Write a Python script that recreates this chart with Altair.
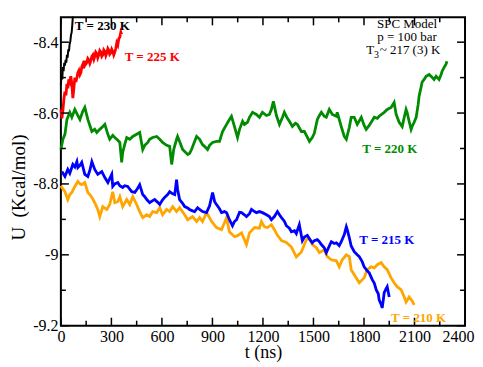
import altair as alt
import pandas as pd

# ---------------- data ----------------
t_230 = [0, 4, 8, 12, 16, 20, 24, 28, 32, 36, 40, 44, 48, 52, 56, 60, 64, 68, 71]
u_230 = [-8.520, -8.490, -8.505, -8.470, -8.482, -8.458, -8.466, -8.450, -8.458, -8.436,
         -8.444, -8.420, -8.426, -8.405, -8.398, -8.380, -8.372, -8.350, -8.328]

t_225 = [0, 6, 12, 18, 24, 30, 36, 41, 47, 53, 59, 65, 71, 77, 83, 89, 95, 101, 107, 113,
         119, 124, 130, 136, 142, 148, 154, 160, 166, 172, 178, 184, 190, 196, 201, 207,
         213, 219, 225, 231, 237, 243, 249, 255, 261, 267, 273, 279, 284, 290, 296, 302,
         308, 314, 320, 326, 332, 338, 344, 350, 356, 361]
u_225 = [-8.590, -8.615, -8.592, -8.560, -8.540, -8.550, -8.518, -8.530, -8.505, -8.512,
         -8.496, -8.518, -8.558, -8.530, -8.500, -8.512, -8.500, -8.486, -8.480, -8.492,
         -8.486, -8.470, -8.463, -8.474, -8.452, -8.462, -8.458, -8.446, -8.450, -8.460,
         -8.452, -8.440, -8.436, -8.448, -8.440, -8.428, -8.432, -8.444, -8.436, -8.424,
         -8.428, -8.440, -8.436, -8.422, -8.426, -8.438, -8.430, -8.418, -8.422, -8.434,
         -8.430, -8.420, -8.426, -8.436, -8.428, -8.418, -8.402, -8.408, -8.390, -8.386,
         -8.372, -8.378]

t_220 = [0, 12, 24, 36, 53, 65, 83, 101, 113, 130, 142, 160, 172, 184, 201, 213, 231, 249,
         261, 279, 290, 308, 320, 338, 350, 361, 367, 379, 391, 409, 427, 450, 468, 486,
         498, 516, 527, 545, 569, 587, 604, 628, 646, 658, 670, 687, 693, 705, 723, 741,
         753, 764, 776, 794, 806, 824, 841, 853, 871, 883, 901, 924, 942, 960, 984, 1001,
         1013, 1031, 1049, 1061, 1079, 1090, 1108, 1120, 1138, 1161, 1179, 1197, 1221,
         1238, 1250, 1262, 1280, 1298, 1316, 1327, 1345, 1357, 1375, 1393, 1404, 1428,
         1446, 1458, 1476, 1493, 1505, 1523, 1535, 1547, 1564, 1576, 1594, 1612, 1636,
         1641, 1653, 1665, 1683, 1695, 1713, 1724, 1742, 1760, 1784, 1801, 1813, 1831,
         1843, 1861, 1879, 1890, 1920, 1938, 1961, 1979, 1991, 2009, 2027, 2039, 2050,
         2056, 2068, 2080, 2086, 2098, 2110, 2122, 2127, 2139, 2145, 2157, 2169, 2187,
         2204, 2216, 2228, 2246, 2258, 2264, 2276, 2287, 2293]
u_220 = [-8.703, -8.674, -8.660, -8.618, -8.598, -8.612, -8.590, -8.607, -8.618, -8.595,
         -8.584, -8.618, -8.635, -8.652, -8.646, -8.655, -8.646, -8.638, -8.632, -8.660,
         -8.674, -8.663, -8.669, -8.677, -8.683, -8.739, -8.711, -8.689, -8.669, -8.674,
         -8.666, -8.660, -8.655, -8.703, -8.691, -8.683, -8.674, -8.669, -8.666, -8.674,
         -8.683, -8.691, -8.694, -8.745, -8.703, -8.674, -8.666, -8.680, -8.703, -8.711,
         -8.717, -8.714, -8.703, -8.680, -8.666, -8.674, -8.689, -8.694, -8.703, -8.691,
         -8.683, -8.680, -8.680, -8.652, -8.632, -8.618, -8.609, -8.638, -8.669, -8.646,
         -8.623, -8.632, -8.626, -8.612, -8.598, -8.604, -8.612, -8.598, -8.607, -8.604,
         -8.590, -8.567, -8.607, -8.632, -8.612, -8.598, -8.615, -8.623, -8.638, -8.629,
         -8.632, -8.652, -8.652, -8.663, -8.680, -8.669, -8.657, -8.618, -8.607, -8.598,
         -8.609, -8.612, -8.590, -8.604, -8.609, -8.598, -8.618, -8.638, -8.666, -8.674,
         -8.640, -8.612, -8.612, -8.632, -8.612, -8.635, -8.646, -8.635, -8.626, -8.612,
         -8.615, -8.609, -8.598, -8.590, -8.584, -8.570, -8.604, -8.626, -8.638, -8.612,
         -8.590, -8.598, -8.623, -8.646, -8.638, -8.626, -8.612, -8.575, -8.553, -8.527,
         -8.513, -8.505, -8.496, -8.491, -8.499, -8.505, -8.496, -8.505, -8.491, -8.482,
         -8.471, -8.462, -8.454]

t_215 = [6, 24, 41, 53, 71, 83, 95, 101, 113, 124, 142, 160, 172, 184, 201, 219, 243, 261,
         279, 290, 302, 308, 320, 338, 350, 367, 379, 397, 409, 421, 439, 456, 468, 486,
         498, 510, 527, 545, 557, 575, 587, 604, 616, 634, 646, 664, 676, 687, 693, 705,
         723, 735, 753, 764, 782, 794, 812, 824, 841, 865, 883, 901, 913, 924, 942, 954,
         972, 984, 1001, 1019, 1031, 1043, 1061, 1073, 1090, 1102, 1120, 1132, 1150, 1161,
         1179, 1197, 1221, 1238, 1250, 1268, 1286, 1298, 1310, 1327, 1339, 1357, 1369,
         1387, 1398, 1416, 1434, 1446, 1464, 1476, 1493, 1505, 1523, 1535, 1547, 1564,
         1576, 1594, 1606, 1624, 1636, 1653, 1665, 1683, 1695, 1701, 1713, 1724, 1742,
         1760, 1772, 1790, 1801, 1819, 1831, 1849, 1861, 1873, 1885, 1890, 1902, 1908,
         1914, 1920, 1932, 1938, 1944, 1950]
u_215 = [-8.765, -8.779, -8.759, -8.770, -8.745, -8.752, -8.737, -8.754, -8.748, -8.739,
         -8.773, -8.779, -8.762, -8.737, -8.759, -8.773, -8.765, -8.782, -8.796, -8.785,
         -8.773, -8.807, -8.800, -8.796, -8.805, -8.810, -8.805, -8.807, -8.815, -8.822,
         -8.824, -8.812, -8.802, -8.830, -8.836, -8.844, -8.853, -8.847, -8.844, -8.852,
         -8.858, -8.845, -8.838, -8.830, -8.822, -8.828, -8.830, -8.788, -8.815, -8.844,
         -8.855, -8.864, -8.868, -8.872, -8.876, -8.878, -8.867, -8.872, -8.878, -8.881,
         -8.862, -8.824, -8.850, -8.858, -8.870, -8.881, -8.878, -8.881, -8.901, -8.918,
         -8.906, -8.901, -8.880, -8.881, -8.887, -8.892, -8.884, -8.872, -8.878, -8.881,
         -8.878, -8.881, -8.887, -8.892, -8.901, -8.892, -8.878, -8.887, -8.895, -8.905,
         -8.918, -8.925, -8.935, -8.932, -8.940, -8.915, -8.960, -8.950, -8.945, -8.955,
         -8.966, -8.960, -8.957, -8.963, -8.971, -8.980, -8.994, -8.975, -8.963, -8.968,
         -8.966, -8.974, -8.963, -8.943, -8.921, -8.930, -8.952, -8.975, -8.991, -9.000,
         -9.005, -9.020, -9.034, -9.045, -9.051, -9.070, -9.080, -9.099, -9.110, -9.127,
         -9.140, -9.150, -9.130, -9.107, -9.095, -9.090, -9.105, -9.119]

t_210 = [0, 6, 24, 41, 53, 65, 83, 101, 113, 124, 142, 160, 172, 184, 201, 219, 231, 249,
         261, 273, 290, 308, 320, 338, 350, 367, 391, 409, 427, 450, 468, 486, 510, 527,
         545, 569, 587, 604, 628, 646, 664, 687, 705, 735, 753, 782, 806, 824, 841, 865,
         895, 924, 954, 972, 984, 1001, 1031, 1049, 1073, 1102, 1120, 1150, 1179, 1191,
         1209, 1227, 1250, 1268, 1286, 1310, 1339, 1369, 1398, 1428, 1458, 1476, 1493,
         1517, 1535, 1564, 1582, 1606, 1636, 1653, 1671, 1695, 1713, 1724, 1742, 1772,
         1801, 1819, 1843, 1861, 1879, 1902, 1920, 1938, 1961, 1979, 1997, 2021, 2039,
         2050, 2068, 2086, 2098]
u_210 = [-8.805, -8.810, -8.822, -8.844, -8.830, -8.824, -8.807, -8.793, -8.800, -8.802,
         -8.796, -8.824, -8.830, -8.838, -8.853, -8.872, -8.892, -8.864, -8.868, -8.872,
         -8.858, -8.822, -8.853, -8.850, -8.836, -8.864, -8.844, -8.858, -8.836, -8.858,
         -8.878, -8.895, -8.887, -8.892, -8.878, -8.881, -8.867, -8.887, -8.872, -8.878,
         -8.864, -8.878, -8.867, -8.887, -8.901, -8.892, -8.906, -8.895, -8.906, -8.881,
         -8.906, -8.923, -8.929, -8.909, -8.895, -8.935, -8.949, -8.946, -8.938, -8.971,
         -8.938, -8.923, -8.925, -8.906, -8.921, -8.923, -8.915, -8.929, -8.945, -8.960,
         -8.965, -8.978, -9.006, -8.992, -8.957, -8.954, -8.971, -8.980, -8.994, -8.986,
         -9.005, -9.014, -9.017, -9.034, -9.014, -9.000, -9.005, -9.042, -9.056, -9.079,
         -9.065, -9.042, -9.034, -9.037, -9.028, -9.022, -9.034, -9.042, -9.065, -9.079,
         -9.090, -9.099, -9.119, -9.133, -9.119, -9.130, -9.141]

x_major = [0, 300, 600, 900, 1200, 1500, 1800, 2100, 2400]
x_minor = [150, 450, 750, 1050, 1350, 1650, 1950, 2250]
y_major = [-9.2, -9.0, -8.8, -8.6, -8.4]
y_minor = [-9.1, -8.9, -8.7, -8.5]

labels_text = ["T = 230 K", "T = 225 K", "T = 220 K", "T = 215 K", "T = 210 K"]
labels_t = [83, 379, 1790, 1772, 1961]
labels_u = [-8.354, -8.442, -8.702, -8.957, -9.177]
labels_color = ["#000000", "#ff0000", "#008b00", "#0000ff", "#ffa500"]

info_text = ["SPC Model", "p = 100 bar"]
info_t = [2056, 2056]
info_u = [-8.349, -8.386]

# ---------------- chart ----------------
W, H = 405, 309
FONT = "Liberation Serif"
xs = alt.Scale(domain=[0, 2400], nice=False, zero=False)
ys = alt.Scale(domain=[-9.2, -8.33], nice=False, zero=False)

xaxis = alt.Axis(values=x_major, format="d", grid=False, domain=False, ticks=False,
                 tickSize=0, labelFont=FONT, labelFontSize=16, labelColor="black",
                 labelPadding=3, title="t (ns)", titleFont=FONT, titleFontSize=18,
                 titleFontWeight="normal", titleColor="black", titleY=32,
                 titleBaseline="alphabetic", labelFlush=False,
                 labelAlign={"condition": {"test": "datum.value == 2400", "value": "right"},
                             "value": "center"},
                 labelOffset={"condition": {"test": "datum.value == 2400", "value": 9},
                              "value": 0})
yaxis = alt.Axis(values=y_major, labelExpr="'' + datum.value", grid=False, domain=False,
                 ticks=False, tickSize=0, labelFont=FONT, labelFontSize=16,
                 labelColor="black", labelPadding=3, title="U\u00a0\u00a0(Kcal/mol)",
                 titleFont=FONT, titleFontSize=19, titleFontWeight="normal",
                 titleColor="black", titleAngle=270, titleX=-42, titleY=170,
                 titleAlign="center", titleBaseline="middle", labelFlush=False)

X = lambda f: alt.X(f, scale=xs, axis=xaxis)
Y = lambda f: alt.Y(f, scale=ys, axis=yaxis)


def series(ts, us, color, sw=2.8):
    df = pd.DataFrame({"t": ts, "u": us})
    return alt.Chart(df).mark_line(color=color, strokeWidth=sw, interpolate="linear").encode(
        x=X("t:Q"), y=Y("u:Q"))


layers = []
layers.append(series(t_210, u_210, "#ffa500"))
layers.append(series(t_215, u_215, "#0000ff"))
layers.append(series(t_220, u_220, "#008b00"))
layers.append(series(t_225, u_225, "#ff0000"))
layers.append(series(t_230, u_230, "#000000", 2.0))

# inward ticks on all four sides
xmaj_df = pd.DataFrame({"t": x_major})
xmin_df = pd.DataFrame({"t": x_minor})
ymaj_df = pd.DataFrame({"u": y_major})
ymin_df = pd.DataFrame({"u": y_minor})
for df, ln in [(xmaj_df, 8), (xmin_df, 5)]:
    layers.append(alt.Chart(df).mark_rule(color="black", strokeWidth=1.5).encode(
        x=X("t:Q"), y=alt.value(H), y2=alt.value(H - ln)))
    layers.append(alt.Chart(df).mark_rule(color="black", strokeWidth=1.5).encode(
        x=X("t:Q"), y=alt.value(0), y2=alt.value(ln)))
for df, ln in [(ymaj_df, 8), (ymin_df, 5)]:
    layers.append(alt.Chart(df).mark_rule(color="black", strokeWidth=1.5).encode(
        y=Y("u:Q"), x=alt.value(0), x2=alt.value(ln)))
    layers.append(alt.Chart(df).mark_rule(color="black", strokeWidth=1.5).encode(
        y=Y("u:Q"), x=alt.value(W), x2=alt.value(W - ln)))

lab_df = pd.DataFrame({"txt": labels_text, "t": labels_t, "u": labels_u, "c": labels_color})
layers.append(alt.Chart(lab_df).mark_text(font=FONT, fontSize=13, fontWeight="bold",
                                          align="left", baseline="middle").encode(
    x=X("t:Q"), y=Y("u:Q"),
    text="txt:N", color=alt.Color("c:N", scale=None, legend=None)))

info_df = pd.DataFrame({"txt": info_text, "t": info_t, "u": info_u})
layers.append(alt.Chart(info_df).mark_text(font=FONT, fontSize=13, align="center",
                                           baseline="middle", color="black").encode(
    x=X("t:Q"), y=Y("u:Q"), text="txt:N"))

t3_df = pd.DataFrame({"txt": ["T", "3", "~ 217 (3) K"], "t": [1813, 1860, 1893],
                      "u": [-8.422, -8.436, -8.422], "fs": [13, 10, 13]})
layers.append(alt.Chart(t3_df).mark_text(font=FONT, align="left", baseline="middle",
                                         color="black").encode(
    x=X("t:Q"), y=Y("u:Q"), text="txt:N",
    size=alt.Size("fs:Q", scale=None, legend=None)))

chart = alt.layer(*layers).properties(
    width=W, height=H,
    autosize=alt.AutoSizeParams(type="none"),
    padding={"left": 53, "top": 9, "right": 10, "bottom": 38},
    background="white",
).configure_view(stroke="black", strokeWidth=2)

chart.save("out.html", embed_options={"renderer": "svg", "actions": False})
